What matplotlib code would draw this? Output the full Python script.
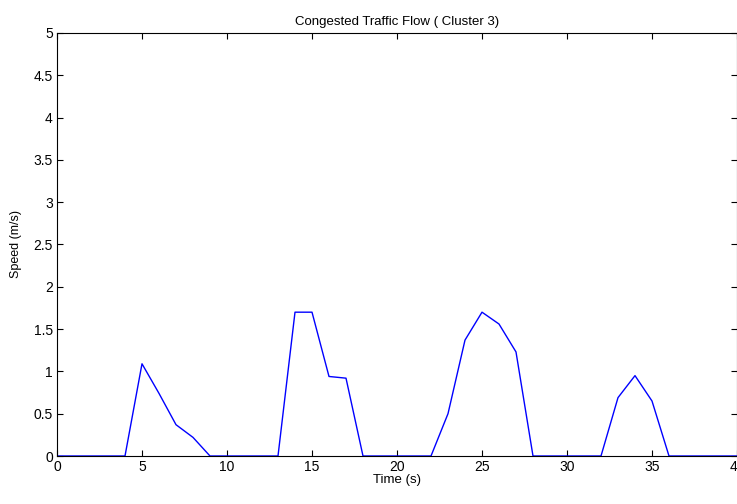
import matplotlib
matplotlib.use("Agg")
import matplotlib.pyplot as plt

time = list(range(0, 41))
speed = [0, 0, 0, 0, 0, 1.09, 0.74, 0.37, 0.22, 0, 0, 0, 0, 0, 1.7, 1.7, 0.94, 0.92, 0,
         0, 0, 0, 0, 0.5, 1.37, 1.7, 1.56, 1.23, 0, 0, 0, 0, 0, 0.69, 0.95, 0.65, 0,
         0, 0, 0, 0]
xticks = [0, 5, 10, 15, 20, 25, 30, 35, 40]
yticks = [0, 0.5, 1, 1.5, 2, 2.5, 3, 3.5, 4, 4.5, 5]

plt.rcParams['font.family'] = ['Liberation Sans Narrow', 'Liberation Sans', 'DejaVu Sans']

fig = plt.figure(figsize=(7.37, 5.04), dpi=100)
ax = fig.add_axes([57/737, 48/504, 680/737, 423/504])
ax.plot(time, speed, color='#0000ff', linewidth=1.0)
ax.set_xlim(0, 40)
ax.set_ylim(0, 5)
ax.set_xticks(xticks)
ax.set_yticks(yticks)
ax.set_yticklabels([f"{v:g}" for v in yticks])
ax.tick_params(direction='in', top=True, right=True, labelsize=10, length=4, width=0.8, pad=3)
for s in ax.spines.values():
    s.set_linewidth(0.8)
ax.set_title('Congested Traffic Flow ( Cluster 3)', fontsize=9.5, pad=6)
ax.set_xlabel('Time (s)', fontsize=9.5, labelpad=0)
ax.set_ylabel('Speed (m/s)', fontsize=9, labelpad=8, family=['Liberation Sans', 'DejaVu Sans'])
fig.savefig('out.png', dpi=100)
